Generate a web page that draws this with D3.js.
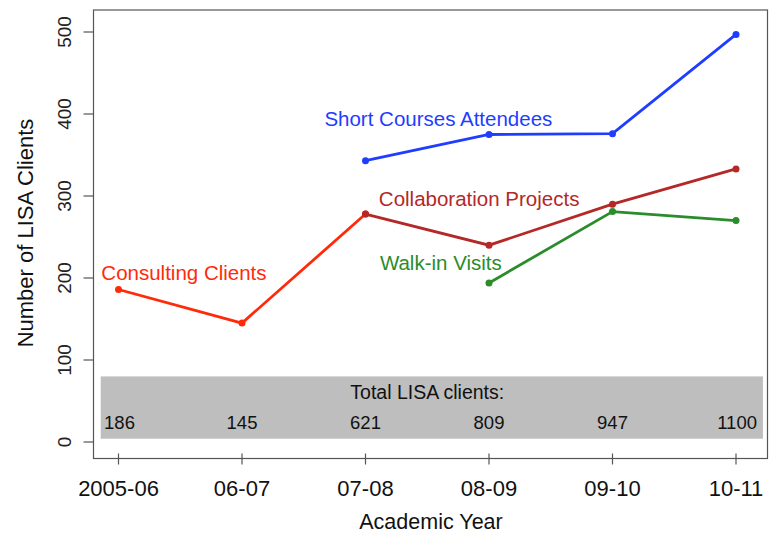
<!DOCTYPE html>
<html>
<head>
<meta charset="utf-8">
<script src="https://cdn.jsdelivr.net/npm/d3@7"></script>
<style>
  body { margin: 0; background: #fff; }
  svg { display: block; font-family: "Liberation Sans", Arial, Helvetica, sans-serif; }
</style>
</head>
<body>
<div id="chart"></div>
<script>
// Academic years on the x axis
const years = ["2005-06", "06-07", "07-08", "08-09", "09-10", "10-11"];
const yTicks = [0, 100, 200, 300, 400, 500];

// Each series: year index (1-based) and number of clients
const consulting = [[1, 186], [2, 145], [3, 278]];
const collaboration = [[3, 278], [4, 240], [5, 290], [6, 333]];
const shortCourses = [[3, 343], [4, 375], [5, 376], [6, 497]];
const walkIn = [[4, 194], [5, 281], [6, 270]];

// Totals printed in the grey band
const totals = [186, 145, 621, 809, 947, 1100];

// Series labels: text, x (year index), y (value)
const labels = [
    {text: "Consulting Clients", x: 1.53, y: 206, color: "#ff2a0a"},
    {text: "Short Courses Attendees", x: 3.59, y: 394, color: "#1f3dff"},
    {text: "Collaboration Projects", x: 3.92, y: 296, color: "#b42828"},
    {text: "Walk-in Visits", x: 3.61, y: 218, color: "#2a8c2a"}
];

const width = 775, height = 533;
const box = {left: 93.5, right: 767.5, top: 10, bottom: 458.5};

const svg = d3.select("#chart").append("svg")
    .attr("width", width)
    .attr("height", height);

const x = d3.scaleLinear().domain([1, 6]).range([118.5, 736]);
const y = d3.scaleLinear().domain([0, 500]).range([442, 32]);

// Grey band with totals
svg.append("rect")
    .attr("x", x(0.856))
    .attr("y", y(80))
    .attr("width", x(6.218) - x(0.856))
    .attr("height", y(4) - y(80))
    .attr("fill", "#bebebe");

svg.append("text")
    .attr("x", x(3.5))
    .attr("y", y(52))
    .attr("text-anchor", "middle")
    .style("font-size", "19.5px")
    .attr("fill", "#111")
    .text("Total LISA clients:");

svg.selectAll(".total").data(totals).enter()
    .append("text")
    .attr("class", "total")
    .attr("x", (d, i) => x(i + 1) + (i === 0 ? 1 : 0))
    .attr("y", y(16))
    .attr("text-anchor", (d, i) => i === 5 ? "end" : "middle")
    .attr("dx", (d, i) => i === 5 ? 21 : 0)
    .style("font-size", "18.5px")
    .attr("fill", "#111")
    .text(d => d);

// Plot box
svg.append("rect")
    .attr("x", box.left)
    .attr("y", box.top)
    .attr("width", box.right - box.left)
    .attr("height", box.bottom - box.top)
    .attr("fill", "none")
    .attr("stroke", "#555")
    .attr("stroke-width", 1.2);

// Y axis ticks and labels
const yAxis = svg.append("g");
yAxis.selectAll("line").data(yTicks).enter()
    .append("line")
    .attr("x1", box.left - 10).attr("x2", box.left)
    .attr("y1", d => y(d)).attr("y2", d => y(d))
    .attr("stroke", "#555").attr("stroke-width", 1.2);
yAxis.selectAll("text").data(yTicks).enter()
    .append("text")
    .attr("transform", d => `translate(71, ${y(d)}) rotate(-90)`)
    .attr("text-anchor", "middle")
    .style("font-size", "19px")
    .attr("fill", "#222")
    .text(d => d);

// X axis ticks and labels
const xAxis = svg.append("g");
xAxis.selectAll("line").data(years).enter()
    .append("line")
    .attr("x1", (d, i) => x(i + 1)).attr("x2", (d, i) => x(i + 1))
    .attr("y1", box.bottom - 5).attr("y2", box.bottom + 6)
    .attr("stroke", "#555").attr("stroke-width", 1.2);
xAxis.selectAll("text").data(years).enter()
    .append("text")
    .attr("x", (d, i) => x(i + 1))
    .attr("y", 496)
    .attr("text-anchor", "middle")
    .style("font-size", "22px")
    .attr("fill", "#111")
    .text(d => d);

// Axis titles
svg.append("text")
    .attr("x", 431)
    .attr("y", 529)
    .attr("text-anchor", "middle")
    .style("font-size", "21.5px")
    .attr("fill", "#111")
    .text("Academic Year");

svg.append("text")
    .attr("transform", `translate(33, 233) rotate(-90)`)
    .attr("text-anchor", "middle")
    .style("font-size", "22px")
    .attr("fill", "#111")
    .text("Number of LISA Clients");

// Lines and points
const line = d3.line().x(d => x(d[0])).y(d => y(d[1]));
const series = [
    {data: consulting, color: "#ff2a0a"},
    {data: shortCourses, color: "#1f3dff"},
    {data: walkIn, color: "#2a8c2a"},
    {data: collaboration, color: "#b42828"}
];

series.forEach(s => {
    svg.append("path")
        .datum(s.data)
        .attr("fill", "none")
        .attr("stroke", s.color)
        .attr("stroke-width", 2.8)
        .attr("d", line);
    svg.selectAll(null).data(s.data).enter()
        .append("circle")
        .attr("cx", d => x(d[0]))
        .attr("cy", d => y(d[1]))
        .attr("r", 3.5)
        .attr("fill", s.color);
});

// Series labels
svg.selectAll(".label").data(labels).enter()
    .append("text")
    .attr("class", "label")
    .attr("x", d => x(d.x))
    .attr("y", d => y(d.y) + 7)
    .attr("text-anchor", "middle")
    .style("font-size", "20.5px")
    .attr("fill", d => d.color)
    .text(d => d.text);
</script>
</body>
</html>
